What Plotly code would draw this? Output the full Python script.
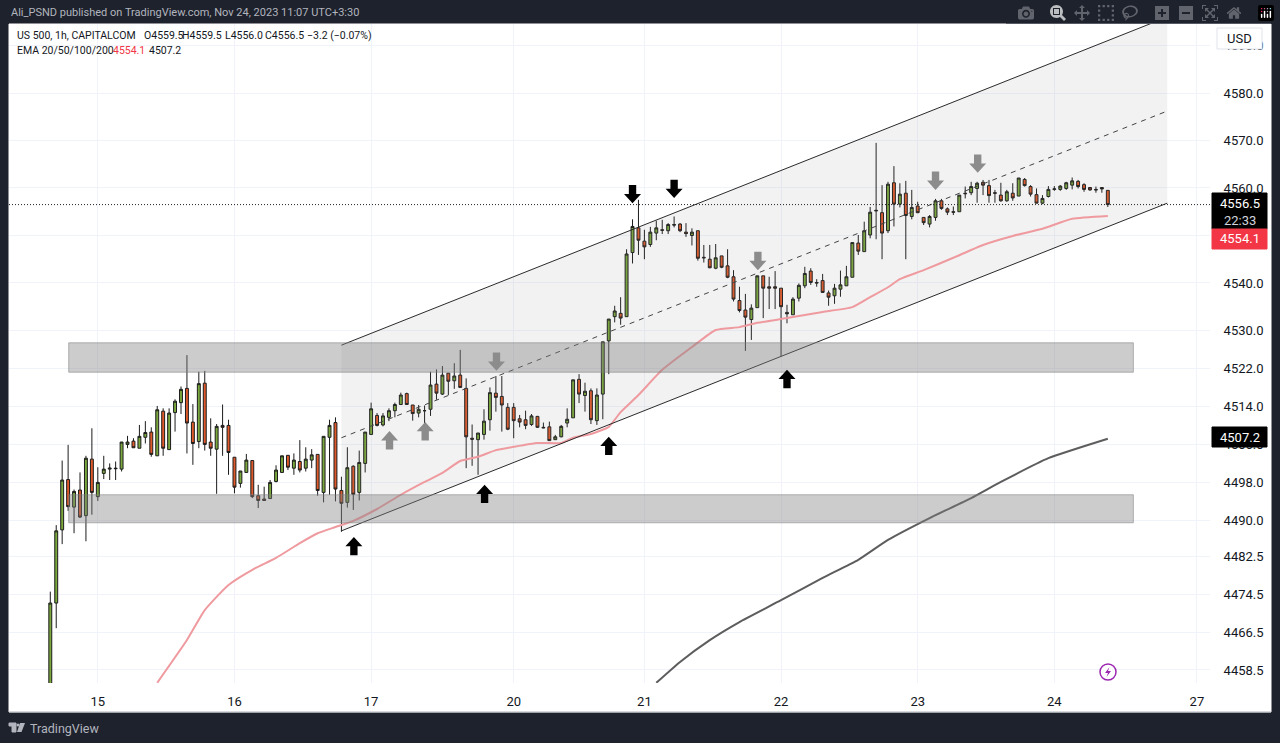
import plotly.graph_objects as go

W, H = 1280, 743

# hourly candles (bar number = position on the time axis)
opens = [
    4455, 4472.6, 4488, 4498.6, 4492.8, 4496.4, 4491, 4502.9, 4495, 4499.9,
    4500.8, 4501, 4500.8, 4506, 4506.7, 4505.2, 4507.5, 4508.6, 4503.6, 4513,
    4504.9, 4512.7, 4514.8, 4517.8, 4510.7, 4506.6, 4518.9, 4506.5, 4505, 4510,
    4510, 4503.3, 4497.8, 4500.1, 4502.6, 4495.2, 4494.5, 4494.6, 4498.2, 4500.1,
    4503.7, 4501, 4502.4, 4501, 4502.7, 4503.9, 4495.9, 4507.5, 4510.6, 4496.3,
    4493.8, 4501.4, 4495.9, 4502, 4508.1, 4512.1, 4510.1, 4511.7, 4513.1, 4514.4,
    4516.7, 4514.3, 4512.6, 4513.1, 4513.4, 4518.7, 4516.6, 4521, 4519.4, 4520.6,
    4517.8, 4507.3, 4507, 4508.1, 4511.2, 4516.8, 4516.1, 4513.8, 4513.8, 4511.4,
    4511.2, 4510.2, 4511.9, 4509.6, 4509.7, 4507, 4507.6, 4510.5, 4511.6, 4519.7,
    4516.3, 4517.3, 4511, 4516.6, 4527.8, 4532.9, 4533.6, 4532.9, 4546.4, 4551.6,
    4548.8, 4548.1, 4550.5, 4551.2, 4551, 4552.3, 4552.4, 4550.7, 4550, 4551,
    4545.4, 4545, 4543.1, 4545.7, 4543.6, 4541.3, 4536.3, 4534.3, 4532.3, 4534.8,
    4541.5, 4539.2, 4539.2, 4538.9, 4533.8, 4533.3, 4536.8, 4539.4, 4542.5, 4540.1,
    4540.5, 4537.9, 4537.3, 4538.7, 4539.4, 4541.2, 4548.4, 4546.6, 4550.1, 4555.3,
    4554.8, 4551, 4561.1, 4556.6, 4558.9, 4554, 4556.2, 4553.8, 4552.4, 4553.8,
    4557.3, 4555.6, 4555, 4555, 4558.9, 4559, 4559.9, 4561.2, 4560.5, 4559,
    4558.5, 4557.3, 4558.9, 4558.3, 4561.8, 4560.3, 4558.6, 4556.8, 4558.2, 4559.7,
    4559.7, 4559.9, 4560.6, 4561.4, 4560.7, 4560.1, 4559.7, 4560.1, 4559.5,
]
highs = [
    4475, 4489, 4502.6, 4505.9, 4496.5, 4500.1, 4503.6, 4509.4, 4501.2, 4503.6,
    4502, 4502.4, 4506.5, 4507.8, 4507.3, 4510.1, 4510.9, 4509.6, 4514.1, 4513.6,
    4513.6, 4515.5, 4518.2, 4524.8, 4514.5, 4521.3, 4521.5, 4511.5, 4510.3, 4514.4,
    4511.2, 4503.3, 4500.4, 4504, 4502.6, 4497.5, 4497.1, 4498.5, 4501.6, 4503.6,
    4503.7, 4504.1, 4506.9, 4505.4, 4505, 4503.9, 4507.7, 4511.2, 4511.7, 4499.2,
    4505.4, 4501.6, 4504.7, 4508.6, 4514.8, 4512.6, 4512.6, 4513.6, 4514.8, 4516.9,
    4516.9, 4514.3, 4514.3, 4514.2, 4521.3, 4521.8, 4522.5, 4521, 4523.1, 4525.9,
    4519.9, 4510.2, 4508.4, 4513.4, 4518, 4520.4, 4520.4, 4514.7, 4514.7, 4512.2,
    4513.1, 4512.4, 4512, 4510.6, 4510.8, 4508, 4510.1, 4513.6, 4519.6, 4520.8,
    4519, 4517.8, 4517.8, 4527.6, 4532.4, 4535.2, 4537, 4547.1, 4553.4, 4557.5,
    4551.2, 4551.8, 4553.1, 4553.3, 4552.6, 4554, 4552.6, 4552.6, 4551.5, 4551,
    4548, 4548, 4548.2, 4545.7, 4547.1, 4542.7, 4539.2, 4537.7, 4535.5, 4541.5,
    4541.5, 4541.3, 4542.5, 4538.9, 4535.4, 4537, 4539.9, 4543.4, 4543.1, 4540.8,
    4541.9, 4538.4, 4539.8, 4542.6, 4543.6, 4548.5, 4550.1, 4552.9, 4556, 4569.5,
    4560.6, 4561.3, 4564.6, 4561, 4561.5, 4559.6, 4557.1, 4553.8, 4554.3, 4557.7,
    4557.7, 4555.9, 4556.1, 4558.5, 4560.3, 4561.3, 4561.3, 4561.7, 4561.7, 4559.6,
    4561.1, 4559.6, 4561, 4562.1, 4562.1, 4560.6, 4559.9, 4558.5, 4560.4, 4560.4,
    4560.6, 4561.3, 4562.2, 4561.7, 4561, 4560.1, 4560.3, 4560.1, 4559.5,
]
lows = [
    4450, 4467.3, 4485, 4492, 4487.3, 4490.5, 4485.6, 4491.2, 4494.1, 4498.7,
    4498.5, 4498.5, 4500.3, 4505.2, 4505.3, 4505.2, 4506.2, 4503.4, 4503.6, 4503.6,
    4504.9, 4508.7, 4512.4, 4504.1, 4501.7, 4505.2, 4504.7, 4503.6, 4495.6, 4503.6,
    4499.6, 4495.7, 4496.9, 4500.1, 4494.7, 4492.6, 4494.2, 4494.6, 4498, 4500.1,
    4500.6, 4499.6, 4500.1, 4500.3, 4501, 4495.2, 4493.8, 4495.4, 4494, 4487.6,
    4492.7, 4492.2, 4494.2, 4500.1, 4508.1, 4509.8, 4509.8, 4510.9, 4511.7, 4514.4,
    4514.4, 4511, 4511.7, 4510.1, 4512, 4515.4, 4516.4, 4516.4, 4517.7, 4518,
    4501, 4501.5, 4499.6, 4507, 4508.9, 4512.9, 4508.7, 4509, 4507.3, 4509.6,
    4509.2, 4509.9, 4509.5, 4509.4, 4506.8, 4507, 4507.5, 4509.6, 4511.6, 4514.7,
    4512.9, 4510.3, 4510.1, 4511.3, 4520.8, 4531.7, 4531.2, 4532.9, 4544.1, 4545.9,
    4545, 4547.6, 4549, 4550.3, 4550.3, 4551.7, 4550.7, 4549.7, 4547.9, 4544.7,
    4544.3, 4543.1, 4542.9, 4543.1, 4541, 4536.1, 4533.8, 4525.7, 4528, 4534.8,
    4532.6, 4534.5, 4534.5, 4524.6, 4531.5, 4533.3, 4536.1, 4538.9, 4539.6, 4539.2,
    4538, 4535.2, 4535.6, 4537.1, 4539.4, 4541.2, 4545.9, 4546.6, 4549.4, 4549.2,
    4545, 4550.5, 4551.9, 4555.9, 4545, 4553.4, 4554.7, 4552.2, 4551.7, 4553.1,
    4555.4, 4554.3, 4554.3, 4555, 4557.8, 4558.5, 4556.9, 4558.5, 4556.9, 4556.9,
    4557.1, 4557.1, 4557.3, 4558.3, 4560.3, 4558.2, 4556.8, 4556.6, 4558, 4559.4,
    4559.4, 4559.6, 4559.7, 4559.9, 4559.2, 4559.4, 4559, 4559, 4556,
]
closes = [
    4472.6, 4487.8, 4498.5, 4492.9, 4496.1, 4490.7, 4503.1, 4495.9, 4498, 4500.8,
    4501, 4500.9, 4506.5, 4506.5, 4505.3, 4507.7, 4508.5, 4503.9, 4513.3, 4505.2,
    4512.6, 4515.1, 4517.6, 4510.5, 4506.2, 4518.8, 4506, 4505.2, 4509.8, 4509.6,
    4504.3, 4497, 4500.4, 4502.7, 4495, 4494.2, 4494.2, 4498, 4500.6, 4503.6,
    4501.2, 4502.7, 4500.6, 4502.9, 4503.8, 4496.3, 4507.7, 4510, 4496.6, 4493.6,
    4501.1, 4495.5, 4502.2, 4508.6, 4513.5, 4510, 4512, 4513.1, 4514.4, 4516.4,
    4514.4, 4512.5, 4513.4, 4513.1, 4518.5, 4516.8, 4520.6, 4519.3, 4520.4, 4518,
    4507.6, 4507.1, 4508.4, 4510.9, 4516.9, 4515.9, 4514.3, 4509.2, 4511, 4510.7,
    4510, 4512, 4509.6, 4509.5, 4506.8, 4507.6, 4509.8, 4511.3, 4519.6, 4516.6,
    4517.2, 4511.2, 4516.4, 4527.6, 4532.4, 4534.1, 4532.6, 4546.1, 4551.9, 4549,
    4547.6, 4550.7, 4551.6, 4551.1, 4552.3, 4552.2, 4551, 4550.4, 4550.7, 4545.2,
    4545.3, 4543.2, 4545.3, 4543.3, 4541.2, 4536.6, 4534.2, 4532.8, 4534.7, 4541.5,
    4538.9, 4538.9, 4538.9, 4535, 4533.5, 4536.6, 4539.5, 4542, 4540.1, 4540,
    4538, 4537, 4538.9, 4539.6, 4541.3, 4548.5, 4546.7, 4551, 4554.9, 4555.2,
    4550.5, 4560.8, 4556.6, 4558.7, 4554.2, 4555.9, 4554.8, 4552.7, 4554, 4557.3,
    4555.7, 4554.9, 4554.9, 4558.5, 4558.8, 4560.3, 4561, 4560.6, 4558.4, 4558.9,
    4557.3, 4559.2, 4557.9, 4562.1, 4560.5, 4558.7, 4556.8, 4557.8, 4559.7, 4559.8,
    4560.4, 4561.1, 4561.5, 4560.3, 4559.7, 4559.6, 4559.6, 4559.8, 4556.5,
]
bars = list(range(len(closes)))

# moving averages
ema_pink_bars = [18, 23, 26, 30, 34, 38, 42, 45, 48, 51, 55, 59, 63, 66, 69, 72, 75, 78,
                 82, 86, 88, 91, 94, 96, 99, 103, 108, 112, 116, 119, 124, 130, 135, 138,
                 141, 143, 147, 152, 157, 162, 167, 172, 178]
ema_pink = [4455.8, 4464.8, 4471.1, 4476.4, 4479.6, 4482.1, 4485.2, 4487.3, 4488.6, 4489.9,
            4492.4, 4495.4, 4498.1, 4500, 4502.5, 4503.4, 4504.8, 4505.5, 4506.3, 4506.3,
            4507.4, 4508.2, 4509.7, 4512.8, 4516.4, 4521.7, 4526.5, 4530.1, 4530.7, 4531.6,
            4532.6, 4533.9, 4534.9, 4537, 4539.1, 4540.8, 4542.7, 4545.3, 4548, 4549.9,
            4551.4, 4553.5, 4554.1]
ema_dark_bars = [102, 106, 111, 116, 123, 130, 136, 141, 148, 155, 160, 168, 178]
ema_dark = [4455.8, 4460.2, 4464.8, 4468.6, 4473.2, 4477.9, 4481.7, 4485.9, 4490.5, 4494.7,
            4498.1, 4503.1, 4507.2]

# channel and the two zones
channel_bars = [49, 188]
channel_low = [4487.8, 4556.8]
channel_mid = [4507.4, 4576.2]
channel_high = [4526.9, 4596]
zone_bars = [3.1, 182.3]
zones = [(4521.2, 4527.4), (4489.5, 4495.4)]

# arrows: bar, price of the tip
black_up = [(51.1, 4486.5), (73.1, 4497.5), (94, 4507.6), (124, 4521.7)]
grey_up = [(57.1, 4508.8), (63.1, 4510.7)]
black_down = [(98, 4556.8), (105, 4557.9)]
grey_down = [(75.1, 4521.5), (119.1, 4542.7), (149, 4559.6), (156.1, 4563.2)]

price_ticks = [4590, 4580, 4570, 4560, 4550, 4540, 4530, 4522, 4514, 4506, 4498, 4490,
               4482.5, 4474.5, 4466.5, 4458.5]
day_ticks = [8, 31, 54, 78, 100, 123, 146, 169, 193]
day_labels = ['15', '16', '17', '20', '21', '22', '23', '24', '27']

UI_FONT = 'Roboto'
TEXT = '#131722'


def px_x(x):
    return x / W


def px_y(y):
    return 1 - y / H


def arrow_path(bar, tip, up=True):
    # sized in chart units so the arrow sits on the price scale
    d = 1 if up else -1
    hw, sw = 1.43, 0.62
    head, total = 1.95 * d, 3.85 * d
    pts = [(bar, tip), (bar + hw, tip - head), (bar + sw, tip - head), (bar + sw, tip - total),
           (bar - sw, tip - total), (bar - sw, tip - head), (bar - hw, tip - head)]
    return 'M' + ' L'.join(f'{x},{y}' for x, y in pts) + ' Z'


def pixel_box(x0, y0, x1, y1, fill, line=None, layer='above', radius=None):
    return dict(type='rect', xref='paper', yref='paper', x0=px_x(x0), x1=px_x(x1),
                y0=px_y(y0), y1=px_y(y1), fillcolor=fill, layer=layer,
                line=dict(color=line or fill, width=1))


fig = go.Figure()

# channel background
fig.add_trace(go.Scatter(
    x=channel_bars + channel_bars[::-1], y=channel_low + channel_high[::-1],
    mode='lines', fill='toself', fillcolor='rgba(128,128,128,0.1)',
    line=dict(width=0), hoverinfo='skip'))

fig.add_trace(go.Candlestick(
    x=bars, open=opens, high=highs, low=lows, close=closes,
    increasing=dict(fillcolor='#7aa83c', line=dict(color='#1c1c1c', width=1)),
    decreasing=dict(fillcolor='#e0592a', line=dict(color='#1c1c1c', width=1)),
    whiskerwidth=0))

fig.add_trace(go.Scatter(x=ema_pink_bars, y=ema_pink, mode='lines',
                         line=dict(color='#ef9a9f', width=2, shape='spline', smoothing=0.5)))
fig.add_trace(go.Scatter(x=ema_dark_bars, y=ema_dark, mode='lines',
                         line=dict(color='#5d5d5d', width=2, shape='spline', smoothing=0.5)))

# channel borders
fig.add_trace(go.Scatter(x=channel_bars, y=channel_low, mode='lines', line=dict(color='#2a2a2a', width=1)))
fig.add_trace(go.Scatter(x=channel_bars, y=channel_high, mode='lines', line=dict(color='#2a2a2a', width=1)))
fig.add_trace(go.Scatter(x=channel_bars, y=channel_mid, mode='lines',
                         line=dict(color='#444444', width=1, dash='5px,5px')))

shapes = [pixel_box(9, 24, 1271, 712, '#ffffff', '#ffffff', layer='below')]
shapes.append(dict(type='line', xref='paper', yref='paper', x0=px_x(9), x1=px_x(1271),
                   y0=px_y(712), y1=px_y(712), line=dict(color='#b0b3b8', width=1)))

for low, high in zones:
    shapes.append(dict(type='rect', xref='x', yref='y', x0=zone_bars[0], x1=zone_bars[1], y0=low, y1=high,
                       fillcolor='rgba(128,128,128,0.4)', line=dict(color='rgba(128,128,128,0.55)', width=1),
                       layer='above'))

for pts, up, color in [(black_up, True, '#000000'), (grey_up, True, '#8c8c8c'),
                       (black_down, False, '#000000'), (grey_down, False, '#8c8c8c')]:
    for bar, tip in pts:
        shapes.append(dict(type='path', xref='x', yref='y', path=arrow_path(bar, tip, up),
                           fillcolor=color, line=dict(width=0), layer='above'))

# last price dotted line
shapes.append(dict(type='line', xref='x domain', yref='y', x0=0, x1=1, y0=closes[-1], y1=closes[-1],
                   line=dict(color='#222222', width=1, dash='1px,2px'), layer='above'))

# price scale tags
shapes.append(pixel_box(1212, 193, 1267, 229, '#000000'))
shapes.append(pixel_box(1212, 229, 1267, 249, '#f23645'))
shapes.append(pixel_box(1212, 427, 1267, 447, '#000000'))
shapes.append(pixel_box(1217, 28, 1262, 49, '#ffffff', '#e0e3eb'))

# alert icon
shapes.append(dict(type='circle', xref='paper', yref='paper', x0=px_x(1100), x1=px_x(1116),
                   y0=px_y(680), y1=px_y(664), fillcolor='#ffffff', line=dict(color='#9c27b0', width=1.5)))
bolt = [(1109.5, 667), (1105, 673), (1108, 673), (1106.5, 677), (1111, 671), (1108, 671)]
shapes.append(dict(type='path', xref='paper', yref='paper',
                   path='M' + ' L'.join(f'{px_x(x)},{px_y(y)}' for x, y in bolt) + ' Z',
                   fillcolor='#9c27b0', line=dict(width=0)))

# TradingView logo
shapes.append(pixel_box(9, 723, 16, 726, '#b2b5be'))
shapes.append(pixel_box(12, 726, 16, 732, '#b2b5be'))
logo = [(20, 723), (25, 723), (21.5, 732), (17, 732)]
shapes.append(dict(type='path', xref='paper', yref='paper',
                   path='M' + ' L'.join(f'{px_x(x)},{px_y(y)}' for x, y in logo) + ' Z',
                   fillcolor='#b2b5be', line=dict(width=0)))
shapes.append(dict(type='circle', xref='paper', yref='paper', x0=px_x(16.5), x1=px_x(19.5),
                   y0=px_y(726.5), y1=px_y(723.5), fillcolor='#b2b5be', line=dict(width=0)))


def label(x, y, text, color=TEXT, size=10.5, anchor='left'):
    return dict(xref='paper', yref='paper', x=px_x(x), y=px_y(y), text=text, showarrow=False,
                xanchor=anchor, yanchor='middle', align=anchor,
                font=dict(family=UI_FONT, size=size, color=color))


annotations = [
    label(9, 12, 'Ali_PSND published on TradingView.com, Nov 24, 2023 11:07 UTC+3:30', '#b2b5be', 11),
    label(15, 35, 'US 500, 1h, CAPITALCOM', size=10.5),
    label(142, 35, 'O4559.5', size=10.5),
    label(180, 35, 'H4559.5', size=10.5),
    label(223, 35, 'L4556.0', size=10.5),
    label(263, 35, 'C4556.5', size=10.5),
    label(305, 35, '\u22123.2 (\u22120.07%)', size=10.5),
    label(15, 50, 'EMA 20/50/100/200', size=10.5),
    label(111, 50, '4554.1', '#f23645', 10.5),
    label(147, 50, '4507.2', size=10.5),
    label(1239.5, 38.5, 'USD', size=13, anchor='center'),
    label(1239.5, 203, '4556.5', '#ffffff', 13, 'center'),
    label(1239.5, 220, '22:33', '#d1d4dc', 13, 'center'),
    label(1239.5, 239, '4554.1', '#ffffff', 13, 'center'),
    label(1239.5, 437, '4507.2', '#ffffff', 13, 'center'),
    label(28, 728, 'TradingView', '#b2b5be', 12.5),
]

fig.update_layout(
    width=W, height=H,
    margin=dict(l=0, r=0, t=0, b=0),
    paper_bgcolor='#1e222d',
    plot_bgcolor='#ffffff',
    showlegend=False,
    shapes=shapes,
    annotations=annotations,
    xaxis=dict(
        domain=[px_x(9), px_x(1210)],
        range=[-6.95, 195.2],
        rangeslider=dict(visible=False),
        tickmode='array', tickvals=day_ticks, ticktext=day_labels,
        showgrid=True, gridcolor='#f0f3fa', gridwidth=1,
        zeroline=False, showline=False,
        ticks='outside', ticklen=6, tickcolor='rgba(0,0,0,0)',
        tickfont=dict(family=UI_FONT, size=13, color=TEXT),
    ),
    yaxis=dict(
        domain=[px_y(683), px_y(24)],
        range=[4455.76, 4594.53],
        side='right',
        tickmode='array', tickvals=price_ticks,
        ticktext=[f'{p:.1f}' for p in price_ticks],
        showgrid=True, gridcolor='#f0f3fa', gridwidth=1,
        zeroline=False, showline=False,
        ticks='outside', ticklen=10, tickcolor='rgba(0,0,0,0)',
        tickfont=dict(family=UI_FONT, size=13, color=TEXT),
    ),
)

fig.write_html("out.html", post_script="document.body.style.margin='0';")
